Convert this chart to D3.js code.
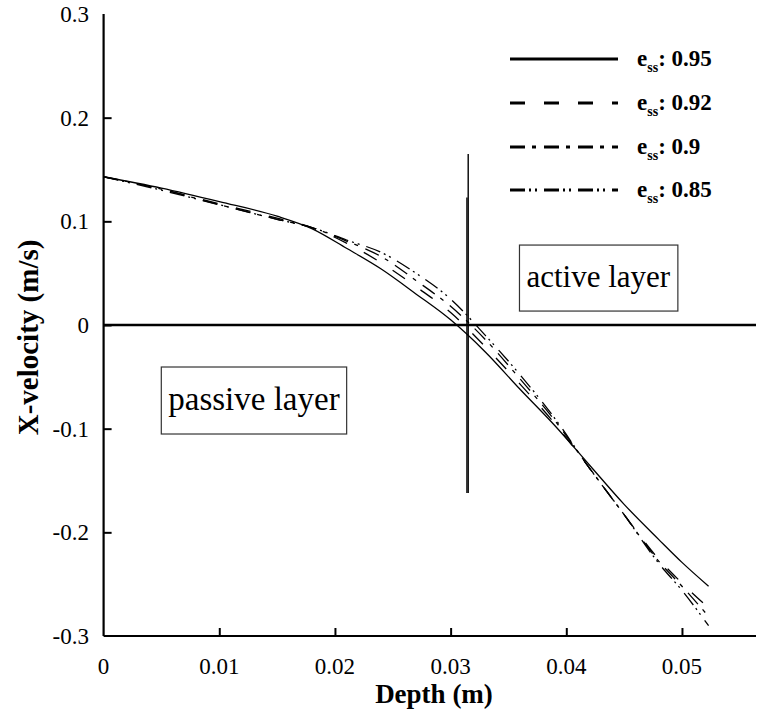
<!DOCTYPE html>
<html>
<head>
<meta charset="utf-8">
<script src="https://cdn.jsdelivr.net/npm/d3@7"></script>
<style>
  html, body { margin: 0; padding: 0; background: #fff; }
  svg { display: block; }
  svg text { font-family: "Liberation Serif", "DejaVu Serif", serif !important; fill: #000; }
</style>
</head>
<body>
<svg id="chart" width="767" height="711" font-family="Liberation Serif, DejaVu Serif, serif"></svg>
<script>
// ---------- data ----------
const depth = [0, 0.005, 0.01, 0.015, 0.018, 0.021, 0.024, 0.027, 0.030, 0.033, 0.036, 0.039, 0.042, 0.045, 0.048, 0.050, 0.0523];
const v095 = [0.143, 0.132, 0.119, 0.105, 0.093, 0.074, 0.054, 0.030, 0.005, -0.026, -0.062, -0.097, -0.135, -0.173, -0.207, -0.229, -0.252];
const v092 = [0.143, 0.131, 0.117, 0.103, 0.094, 0.079, 0.060, 0.037, 0.012, -0.021, -0.057, -0.095, -0.138, -0.183, -0.226, -0.249, -0.273];
const v090 = [0.143, 0.131, 0.116, 0.102, 0.094, 0.081, 0.066, 0.043, 0.018, -0.014, -0.052, -0.092, -0.138, -0.183, -0.228, -0.252, -0.281];
const v085 = [0.143, 0.130, 0.116, 0.102, 0.094, 0.082, 0.070, 0.050, 0.025, -0.010, -0.048, -0.090, -0.138, -0.183, -0.230, -0.256, -0.290];
const seriesNames = ["0.95", "0.92", "0.9", "0.85"];
const seriesValues = [v095, v092, v090, v085];
const xTicks = [0, 0.01, 0.02, 0.03, 0.04, 0.05];
const xTickLabels = ["0", "0.01", "0.02", "0.03", "0.04", "0.05"];
const yTicks = [0.3, 0.2, 0.1, 0, -0.1, -0.2, -0.3];
const yTickLabels = ["0.3", "0.2", "0.1", "0", "-0.1", "-0.2", "-0.3"];
const xDomain = [0, 0.0564];
const yDomain = [-0.3, 0.3];
const interfaceDepth = [0.03152, 0.03141];
const interfaceTop = [0.165, 0.123];
const interfaceBottom = [-0.162, -0.162];
const xTitle = "Depth (m)";
const yTitle = "X-velocity (m/s)";
const annotationText = ["active layer", "passive layer"];
const annotationX = [0.04277, 0.0130];
const annotationY = [0.0366, -0.082];

// ---------- styles ----------
const dashes = [null, "15,19", "15,7,4,8", "15,4,2,4,2,7"];
const annotationSize = [31, 33];
const FONT = "Liberation Serif, DejaVu Serif, serif";

const svg = d3.select("#chart");
const x = d3.scaleLinear().domain(xDomain).range([103.6, 756]);
const y = d3.scaleLinear().domain(yDomain).range([636, 14]);

// axes
const gx = svg.append("g").attr("transform", `translate(0,${y(-0.3)})`)
  .call(d3.axisBottom(x).tickValues(xTicks.slice(1)).tickSize(-8).tickFormat(""));
gx.select(".domain").attr("stroke", "#000").attr("stroke-width", 2.2).attr("d", `M${x(0)},0H${x(xDomain[1])}`);
gx.selectAll(".tick line").attr("stroke", "#000").attr("stroke-width", 2);

const gy = svg.append("g").attr("transform", `translate(${x(0)},0)`)
  .call(d3.axisLeft(y).tickValues(yTicks.slice(1, -1)).tickSize(-8).tickFormat(""));
gy.select(".domain").attr("stroke", "#000").attr("stroke-width", 2.2).attr("d", `M0,${y(0.3)}V${y(-0.3)}`);
gy.selectAll(".tick line").attr("stroke", "#000").attr("stroke-width", 2);

// tick labels
svg.append("g").selectAll("text").data(xTicks).join("text")
  .attr("font-family", FONT)
  .attr("x", d => x(d)).attr("y", 674)
  .attr("text-anchor", "middle").attr("font-size", 23)
  .text((d, i) => xTickLabels[i]);
svg.append("g").selectAll("text").data(yTicks).join("text")
  .attr("font-family", FONT)
  .attr("x", 89).attr("y", d => y(d) + 8)
  .attr("text-anchor", "end").attr("font-size", 23)
  .text((d, i) => yTickLabels[i]);

// axis titles
svg.append("text").attr("font-family", FONT).attr("x", 434).attr("y", 703).attr("text-anchor", "middle")
  .attr("font-size", 27).attr("font-weight", "bold").text(xTitle);
svg.append("text").attr("font-family", FONT).attr("transform", `translate(38,${y(-0.012)}) rotate(-90)`)
  .attr("text-anchor", "middle").attr("font-size", 29).attr("font-weight", "bold").text(yTitle);

// zero line
svg.append("line").attr("x1", x(0)).attr("x2", x(xDomain[1])).attr("y1", y(0)).attr("y2", y(0))
  .attr("stroke", "#000").attr("stroke-width", 2.4);

// interface lines
interfaceDepth.forEach((d, i) => {
  svg.append("line").attr("x1", x(d)).attr("x2", x(d))
    .attr("y1", y(interfaceTop[i])).attr("y2", y(interfaceBottom[i]))
    .attr("stroke", "#000").attr("stroke-width", 1.4);
});

// curves
const line = d3.line().curve(d3.curveMonotoneX).x(d => x(d[0])).y(d => y(d[1]));
seriesValues.forEach((vals, i) => {
  svg.append("path").datum(depth.map((d, j) => [d, vals[j]]))
    .attr("d", line).attr("fill", "none").attr("stroke", "#000")
    .attr("stroke-width", 1.3)
    .attr("stroke-dasharray", dashes[i]);
});

// annotation boxes
annotationText.forEach((txt, i) => {
  const g = svg.append("g");
  const rect = g.append("rect");
  const t = g.append("text").attr("font-family", FONT)
    .attr("x", x(annotationX[i])).attr("y", y(annotationY[i]))
    .attr("text-anchor", "middle").attr("font-size", annotationSize[i]).text(txt);
  const bb = t.node().getBBox();
  rect.attr("x", bb.x - 7).attr("y", bb.y - 14)
    .attr("width", bb.width + 14).attr("height", bb.height + 31)
    .attr("fill", "#fff").attr("stroke", "#333").attr("stroke-width", 1.2);
});

// legend
const legY = [59, 103, 147, 190];
seriesNames.forEach((name, i) => {
  const g = svg.append("g").attr("transform", `translate(0,${legY[i]})`);
  g.append("line").attr("x1", 510).attr("x2", 618).attr("y1", 0).attr("y2", 0)
    .attr("stroke", "#000").attr("stroke-width", 3)
    .attr("stroke-dasharray", dashes[i]);
  const t = g.append("text").attr("font-family", FONT).attr("x", 637).attr("y", 7)
    .attr("font-size", 23).attr("font-weight", "bold");
  t.append("tspan").text("e");
  t.append("tspan").attr("font-size", 14).attr("dy", 6).text("ss");
  t.append("tspan").attr("dy", -6).text(": " + name);
});
</script>
</body>
</html>
